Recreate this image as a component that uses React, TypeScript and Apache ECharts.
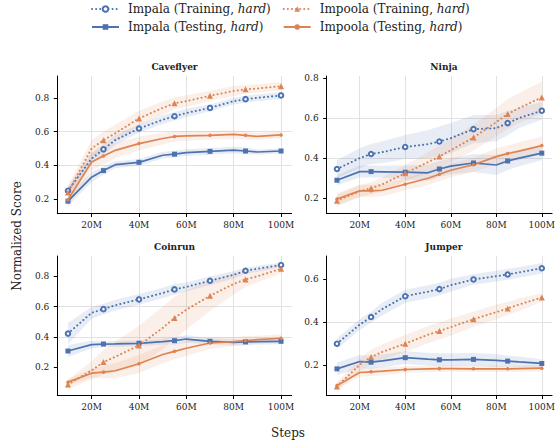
import React, { useEffect, useRef } from "react";
import * as echarts from "echarts";

// ---------- data ----------
const STEPS = [10, 20, 25, 30, 40, 50, 55, 60, 70, 80, 85, 90, 100];
const MARKED_STEPS = [10, 25, 40, 55, 70, 85, 100];
const X_TICKS = [20, 40, 60, 80, 100];
const Y_TICKS_FOUR = [0.2, 0.4, 0.6, 0.8];
const Y_TICKS_THREE = [0.2, 0.4, 0.6];

const SERIES_NAMES = [
  "Impala (Training, hard)",
  "Impala (Testing, hard)",
  "Impoola (Training, hard)",
  "Impoola (Testing, hard)",
];
const PANEL_TITLES = ["Caveflyer", "Ninja", "Coinrun", "Jumper"];
const Y_RANGES = [
  [0.115, 0.929],
  [0.124, 0.81],
  [0.015, 0.934],
  [0.057, 0.706],
];

// Caveflyer
const caveflyerImpalaTrain = [0.25, 0.44, 0.495, 0.55, 0.618, 0.67, 0.691, 0.71, 0.74, 0.78, 0.792, 0.8, 0.814];
const caveflyerImpalaTest = [0.188, 0.33, 0.369, 0.404, 0.418, 0.46, 0.466, 0.475, 0.483, 0.49, 0.485, 0.479, 0.485];
const caveflyerImpoolaTrain = [0.24, 0.5, 0.549, 0.59, 0.678, 0.74, 0.767, 0.78, 0.812, 0.84, 0.85, 0.855, 0.869];
const caveflyerImpoolaTest = [0.196, 0.42, 0.455, 0.489, 0.529, 0.559, 0.571, 0.575, 0.578, 0.583, 0.578, 0.571, 0.58];
const caveflyerImpalaTrainSpread = [0.03, 0.035, 0.03, 0.03, 0.025, 0.025, 0.025, 0.025, 0.02, 0.02, 0.02, 0.02, 0.02];
const caveflyerImpalaTestSpread = [0.03, 0.03, 0.025, 0.02, 0.02, 0.02, 0.02, 0.02, 0.02, 0.02, 0.02, 0.015, 0.015];
const caveflyerImpoolaTrainSpread = [0.04, 0.05, 0.05, 0.05, 0.045, 0.04, 0.035, 0.035, 0.03, 0.03, 0.025, 0.025, 0.025];
const caveflyerImpoolaTestSpread = [0.04, 0.05, 0.05, 0.045, 0.04, 0.035, 0.03, 0.03, 0.025, 0.025, 0.025, 0.02, 0.02];

// Ninja
const ninjaImpalaTrain = [0.346, 0.4, 0.421, 0.43, 0.456, 0.47, 0.483, 0.5, 0.545, 0.55, 0.575, 0.6, 0.637];
const ninjaImpalaTest = [0.29, 0.333, 0.333, 0.332, 0.33, 0.327, 0.346, 0.36, 0.376, 0.366, 0.386, 0.4, 0.425];
const ninjaImpoolaTrain = [0.188, 0.235, 0.25, 0.27, 0.325, 0.38, 0.408, 0.44, 0.503, 0.58, 0.62, 0.65, 0.703];
const ninjaImpoolaTest = [0.196, 0.237, 0.237, 0.24, 0.27, 0.3, 0.32, 0.34, 0.367, 0.408, 0.423, 0.435, 0.463];
const ninjaImpalaTrainSpread = [0.045, 0.05, 0.05, 0.055, 0.06, 0.07, 0.075, 0.075, 0.07, 0.065, 0.06, 0.05, 0.045];
const ninjaImpalaTestSpread = [0.025, 0.03, 0.03, 0.03, 0.035, 0.04, 0.04, 0.04, 0.045, 0.05, 0.045, 0.04, 0.035];
const ninjaImpoolaTrainSpread = [0.03, 0.03, 0.03, 0.035, 0.04, 0.05, 0.055, 0.06, 0.065, 0.07, 0.075, 0.075, 0.08];
const ninjaImpoolaTestSpread = [0.03, 0.03, 0.03, 0.03, 0.03, 0.035, 0.035, 0.035, 0.035, 0.04, 0.04, 0.045, 0.045];

// Coinrun
const coinrunImpalaTrain = [0.423, 0.56, 0.584, 0.61, 0.648, 0.69, 0.714, 0.73, 0.771, 0.81, 0.837, 0.85, 0.875];
const coinrunImpalaTest = [0.308, 0.35, 0.354, 0.355, 0.359, 0.37, 0.376, 0.387, 0.372, 0.365, 0.368, 0.37, 0.372];
const coinrunImpoolaTrain = [0.088, 0.18, 0.235, 0.27, 0.345, 0.46, 0.526, 0.58, 0.672, 0.75, 0.78, 0.8, 0.85];
const coinrunImpoolaTest = [0.103, 0.162, 0.169, 0.178, 0.224, 0.285, 0.306, 0.326, 0.361, 0.37, 0.377, 0.383, 0.392];
const coinrunImpalaTrainSpread = [0.07, 0.04, 0.035, 0.035, 0.035, 0.035, 0.035, 0.03, 0.03, 0.025, 0.02, 0.02, 0.015];
const coinrunImpalaTestSpread = [0.04, 0.025, 0.02, 0.02, 0.02, 0.02, 0.025, 0.025, 0.02, 0.02, 0.02, 0.02, 0.02];
const coinrunImpoolaTrainSpread = [0.03, 0.06, 0.08, 0.1, 0.13, 0.14, 0.14, 0.13, 0.1, 0.07, 0.05, 0.04, 0.03];
const coinrunImpoolaTestSpread = [0.02, 0.03, 0.04, 0.05, 0.06, 0.06, 0.05, 0.05, 0.04, 0.03, 0.03, 0.025, 0.025];

// Jumper
const jumperImpalaTrain = [0.298, 0.387, 0.422, 0.46, 0.519, 0.54, 0.552, 0.57, 0.597, 0.612, 0.62, 0.63, 0.649];
const jumperImpalaTest = [0.181, 0.215, 0.212, 0.218, 0.233, 0.226, 0.223, 0.223, 0.225, 0.22, 0.217, 0.213, 0.206];
const jumperImpoolaTrain = [0.099, 0.2, 0.236, 0.26, 0.298, 0.34, 0.357, 0.375, 0.412, 0.445, 0.462, 0.48, 0.513];
const jumperImpoolaTest = [0.103, 0.164, 0.167, 0.17, 0.178, 0.181, 0.182, 0.182, 0.181, 0.181, 0.181, 0.182, 0.184];
const jumperImpalaTrainSpread = [0.025, 0.025, 0.025, 0.03, 0.03, 0.03, 0.03, 0.03, 0.025, 0.025, 0.025, 0.025, 0.025];
const jumperImpalaTestSpread = [0.03, 0.03, 0.03, 0.03, 0.03, 0.03, 0.03, 0.03, 0.03, 0.03, 0.025, 0.025, 0.02];
const jumperImpoolaTrainSpread = [0.02, 0.03, 0.035, 0.035, 0.04, 0.04, 0.04, 0.04, 0.035, 0.035, 0.03, 0.03, 0.02];
const jumperImpoolaTestSpread = [0.015, 0.02, 0.02, 0.02, 0.015, 0.015, 0.015, 0.015, 0.015, 0.015, 0.015, 0.015, 0.015];

// ---------- styling ----------
const BLUE = "#4C72B0";
const ORANGE = "#DD8452";
const SERIF = "DejaVu Serif";
const TEXT_COLOR = "#222";
const GRID_COLOR = "#e2e2e2";

const STYLES = [
  { color: BLUE, symbol: "emptyCircle", size: 4.5, dotted: true },
  { color: BLUE, symbol: "rect", size: 5, dotted: false },
  { color: ORANGE, symbol: "triangle", size: 6, dotted: true },
  { color: ORANGE, symbol: "circle", size: 3.5, dotted: false },
];

const LAYOUT = [
  { left: 57.3, top: 76, height: 137.5 },
  { left: 326.7, top: 76, height: 137.5 },
  { left: 57.3, top: 256, height: 139.5 },
  { left: 326.7, top: 256, height: 139.5 },
];
const GRID_WIDTH = 234.4;

function buildOption() {
  const panelMeans = [
    [caveflyerImpalaTrain, caveflyerImpalaTest, caveflyerImpoolaTrain, caveflyerImpoolaTest],
    [ninjaImpalaTrain, ninjaImpalaTest, ninjaImpoolaTrain, ninjaImpoolaTest],
    [coinrunImpalaTrain, coinrunImpalaTest, coinrunImpoolaTrain, coinrunImpoolaTest],
    [jumperImpalaTrain, jumperImpalaTest, jumperImpoolaTrain, jumperImpoolaTest],
  ];
  const panelSpreads = [
    [caveflyerImpalaTrainSpread, caveflyerImpalaTestSpread, caveflyerImpoolaTrainSpread, caveflyerImpoolaTestSpread],
    [ninjaImpalaTrainSpread, ninjaImpalaTestSpread, ninjaImpoolaTrainSpread, ninjaImpoolaTestSpread],
    [coinrunImpalaTrainSpread, coinrunImpalaTestSpread, coinrunImpoolaTrainSpread, coinrunImpoolaTestSpread],
    [jumperImpalaTrainSpread, jumperImpalaTestSpread, jumperImpoolaTrainSpread, jumperImpoolaTestSpread],
  ];
  const yTicks = [Y_TICKS_FOUR, Y_TICKS_FOUR, Y_TICKS_FOUR, Y_TICKS_THREE];

  const grid: any[] = [];
  const xAxis: any[] = [];
  const yAxis: any[] = [];
  const series: any[] = [];
  const graphic: any[] = [];

  PANEL_TITLES.forEach((title, i) => {
    const L = LAYOUT[i];
    grid.push({ left: L.left, top: L.top, width: GRID_WIDTH, height: L.height });
    xAxis.push({
      type: "value",
      gridIndex: i,
      min: 5.5,
      max: 104.5,
      axisLine: { show: true, onZero: false, lineStyle: { color: "#000", width: 1 } },
      axisTick: { show: true, customValues: X_TICKS, length: 3.5, lineStyle: { color: "#000", width: 1 } },
      axisLabel: {
        customValues: X_TICKS,
        formatter: (v: number) => `${v}M`,
        margin: 7,
        fontFamily: SERIF,
        fontSize: 9,
        color: TEXT_COLOR,
      },
      splitLine: { show: true, lineStyle: { color: GRID_COLOR, width: 1 } },
    });
    yAxis.push({
      type: "value",
      gridIndex: i,
      min: Y_RANGES[i][0],
      max: Y_RANGES[i][1],
      axisLine: { show: true, onZero: false, lineStyle: { color: "#000", width: 1 } },
      axisTick: { show: true, customValues: yTicks[i], length: 3.5, lineStyle: { color: "#000", width: 1 } },
      axisLabel: {
        customValues: yTicks[i],
        formatter: (v: number) => v.toFixed(1),
        margin: 8,
        fontFamily: SERIF,
        fontSize: 9,
        color: TEXT_COLOR,
      },
      splitLine: { show: true, showMinLine: false, showMaxLine: false, lineStyle: { color: GRID_COLOR, width: 1 } },
    });

    // confidence bands: one polygon per band, drawn from the axes' own scales
    panelMeans[i].forEach((mean, k) => {
      const spread = panelSpreads[i][k];
      const st = STYLES[k];
      const bandData = STEPS.map((x, j) => [x, mean[j] - spread[j], mean[j] + spread[j]]);
      series.push({
        type: "custom",
        xAxisIndex: i,
        yAxisIndex: i,
        data: bandData,
        encode: { x: 0, y: [1, 2] },
        silent: true,
        clip: true,
        z: 1,
        renderItem: (params: any, api: any) => {
          if (params.dataIndex !== 0) return null;
          const upper = bandData.map((d) => api.coord([d[0], d[2]]));
          const lower = bandData.map((d) => api.coord([d[0], d[1]])).reverse();
          return {
            type: "polygon",
            shape: { points: upper.concat(lower) },
            style: { fill: st.color, opacity: 0.13 },
          };
        },
      });
    });

    // lines
    panelMeans[i].forEach((mean, k) => {
      const st = STYLES[k];
      series.push({
        name: SERIES_NAMES[k],
        type: "line",
        xAxisIndex: i,
        yAxisIndex: i,
        data: STEPS.map((x, j) => ({
          value: [x, mean[j]],
          symbol: MARKED_STEPS.includes(x) ? st.symbol : "none",
        })),
        symbol: st.symbol,
        symbolSize: st.size,
        showSymbol: true,
        lineStyle: st.dotted
          ? { color: st.color, width: 2, type: [0.1, 4], cap: "round" }
          : { color: st.color, width: 1.7 },
        itemStyle: st.symbol === "emptyCircle"
          ? { color: st.color, borderColor: st.color, borderWidth: 1.3 }
          : { color: st.color },
        z: 3,
      });
    });

    graphic.push({
      type: "text",
      x: L.left + GRID_WIDTH / 2,
      y: L.top - 9,
      style: {
        text: title,
        fontFamily: SERIF,
        fontSize: 9,
        fontWeight: "bold",
        fill: TEXT_COLOR,
        textAlign: "center",
        textVerticalAlign: "middle",
      },
    });
  });

  graphic.push({
    type: "text",
    x: 288,
    y: 433,
    style: { text: "Steps", fontFamily: SERIF, fontSize: 12, fill: TEXT_COLOR, textAlign: "center", textVerticalAlign: "middle" },
  });
  graphic.push({
    type: "text",
    x: 17,
    y: 236,
    rotation: Math.PI / 2,
    style: { text: "Normalized Score", fontFamily: SERIF, fontSize: 12, fill: TEXT_COLOR, textAlign: "center", textVerticalAlign: "middle" },
  });

  const legendCommon = {
    orient: "vertical",
    top: -2,
    itemWidth: 27,
    itemHeight: 7,
    itemGap: 6,
    selectedMode: false,
    formatter: (name: string) => name.replace("hard", "{i|hard}"),
    textStyle: {
      fontFamily: SERIF,
      fontSize: 12,
      color: TEXT_COLOR,
      padding: [0, 0, 0, 4],
      rich: { i: { fontFamily: SERIF, fontSize: 12, fontStyle: "italic", color: TEXT_COLOR } },
    },
  };

  return {
    animation: false,
    backgroundColor: "#fff",
    textStyle: { fontFamily: SERIF },
    grid,
    xAxis,
    yAxis,
    series,
    graphic,
    legend: [
      { ...legendCommon, left: 86, data: [SERIES_NAMES[0], SERIES_NAMES[1]] },
      { ...legendCommon, left: 277.7, data: [SERIES_NAMES[2], SERIES_NAMES[3]] },
    ],
  };
}

export default function App() {
  const ref = useRef<HTMLDivElement>(null);
  useEffect(() => {
    if (!ref.current) return;
    const chart = echarts.init(ref.current, undefined, { renderer: "svg" });
    chart.setOption(buildOption() as any);
    return () => chart.dispose();
  }, []);
  return (
    <div
      ref={ref}
      style={{ position: "fixed", left: 0, top: 0, width: 558, height: 441, background: "#fff" }}
    />
  );
}
